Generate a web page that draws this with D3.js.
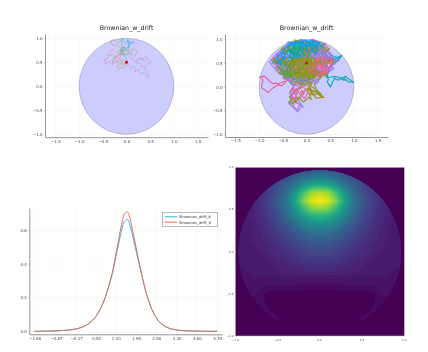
<!DOCTYPE html>
<html>
<head>
<meta charset="utf-8">
<script src="https://cdn.jsdelivr.net/npm/d3@7"></script>
<style>
body { margin: 0; background: #fff; }
svg { display: block; font-family: "DejaVu Sans", sans-serif; filter: blur(0.25px); }
.grid line { stroke: #000; stroke-opacity: 0.06; stroke-width: 0.5; }
.axis text { fill: #444; stroke: none; }
.axis path, .axis line { stroke: #8a8a8a; }
</style>
</head>
<body>
<div id="chart"></div>
<script>
// palette of the walks
var walkColors = ["#009AFA", "#E36F47", "#3EA44E", "#C371D2", "#AC8D18", "#00AAAE", "#ED5E93", "#C68225", "#00A98D", "#8E971D", "#00A8CB", "#9B7FE9"];
var bandColors = ["#00A8CB", "#8E971D", "#9B7FE9", "#AC8D18", "#C371D2", "#8E971D", "#9B7FE9", "#AC8D18"];
var patchColors = ["#9B7FE9", "#009AFA", "#ED5E93", "#3EA44E", "#00AAAE", "#8E971D", "#ED5E93", "#8E971D"];
var startPoint = [0, 0.5];
var discRadius = 1;
var axisTicks = [-1.5, -1, -0.5, 0, 0.5, 1, 1.5];
var yTicks = [-1, -0.5, 0, 0.5, 1];

// few walks, left panel (x, y, x, y ...)
var fewBlue = [.02,.8, .05,.84, .02,.87, .06,.9, .04,.94, .01,.92, .03,.98, .07,.93, .1,.9, .13,.93, .16,.91, .12,.89, .08,.92, .05,.9, .07,.86, .03,.83, .06,.79, .02,.76, .04,.72];
var fewOrange = [0,.5, -.04,.53, -.07,.57, -.11,.52, -.14,.56, -.18,.6, -.16,.65, -.21,.62, -.25,.57, -.24,.63, -.29,.67, -.33,.63, -.36,.67, -.41,.65, -.38,.6, -.43,.57, -.48,.55, -.44,.51, -.46,.48, -.4,.49, -.36,.53, -.33,.48, -.3,.44, -.28,.5, -.24,.54, -.2,.5, -.17,.54, -.13,.6, -.1,.66, -.15,.7, -.18,.74, -.12,.78, -.08,.74, -.04,.7, -.09,.65, -.14,.67, -.2,.7, -.25,.74, -.29,.77, -.35,.73];
var fewGreen = [-.07,.7, -.04,.74, -.09,.76, -.13,.73, -.11,.78, -.07,.82, -.03,.79, -.01,.74, .03,.71, .06,.7, .03,.66, -.02,.68, -.05,.65, -.09,.69, -.11,.74, -.06,.77, -.03,.81];
var fewPurple = [0,.5, .03,.47, .06,.45, .08,.4, .11,.37, .14,.42, .17,.4, .2,.35, .17,.3, .21,.32, .25,.35, .27,.29, .3,.25, .34,.29, .38,.27, .42,.22, .46,.2, .47,.25, .43,.3, .39,.34, .41,.4, .36,.42, .32,.39, .3,.45, .27,.49, .22,.47, .2,.52, .23,.57, .28,.6, .33,.57, .38,.58, .42,.62, .45,.57, .49,.54, .52,.5, .47,.47, .42,.52, .36,.54, .3,.57, .24,.53, .18,.5, .14,.56, .09,.58, .06,.63, .1,.68, .13,.72];
var fewOlive = [0,.5, -.04,.46, -.08,.43, -.12,.47, -.16,.44, -.2,.42, -.17,.36, -.13,.38, -.09,.41, -.05,.37, -.02,.41, .02,.43, -.03,.47, -.09,.5, -.15,.49, -.2,.53, -.25,.47, -.29,.5, -.3,.55, -.25,.6, -.2,.64, -.15,.67, -.09,.68, -.03,.65, .02,.67, .07,.7, .12,.65, .16,.62, .2,.67, .23,.73, .18,.76, .13,.78, .1,.73, .05,.75, .01,.78, -.05,.83, -.1,.79, -.15,.82, -.2,.87, -.26,.85, -.31,.88, -.32,.95, -.27,.98, -.22,.94, -.18,.91, -.13,.95, -.09,.93];
var fewTeal = [0,.5, .01,.55, -.02,.6, -.05,.64, -.09,.68, -.13,.72, -.1,.76, -.07,.8, -.11,.85, -.09,.91, -.12,.94, -.08,1, -.05,.94, -.02,.89, .02,.93, .06,.89, .09,.85, .05,.81, .01,.8, -.04,.76, -.08,.72, -.12,.69];

// many walks, right panel
var manyBlue = [0,.5, -.15,.62, -.05,.7, -.25,.68, -.12,.82, -.3,.78, -.2,.92, -.38,.85, -.28,.72, -.45,.75, -.35,.6, -.52,.65, -.42,.52, -.6,.58, -.5,.45, -.38,.55, -.25,.42, -.32,.6, -.15,.5, -.2,.75, -.05,.9, -.18,.97, .02,.85, -.1,.75, .1,.78, .02,.95, .2,.88, .12,.7, .25,.72, .1,.6, -.05,.55, -.22,.63, -.1,.42, -.28,.55, -.4,.68, -.55,.72, -.48,.58, -.68,.55, -.58,.48, -.44,.6, -.3,.5];
var manyOrange = [0,.5, .12,.42, .05,.35, .2,.38, .15,.5, .3,.45, .22,.6, .38,.55, .3,.4, .45,.42, .36,.62, .5,.55, .42,.7, .28,.68, .35,.82, .2,.75, .12,.9, .05,.72, .18,.62, .02,.6, .1,.48, -.08,.38, -.02,.28, -.15,.32, -.08,.18, .05,.25, .1,.15, .18,.3, .3,.32, .42,.35, .52,.45, .58,.58, .46,.5, .34,.7, .48,.78, .38,.9, .26,.94, .3,.78, .15,.7, .1,.82];
var manyGreen = [0,.5, -.1,.4, -.22,.48, -.12,.28, -.3,.36, -.2,.2, -.38,.3, -.28,.5, -.45,.4, -.35,.22, -.5,.3, -.6,.42, -.45,.52, -.32,.42, -.18,.58, -.05,.45, .08,.55, -.05,.32, .05,.2, -.12,.12, -.25,.25, -.12,.42, .02,.38, .12,.5, -.02,.65, .1,.7, -.08,.8, .05,.88, -.15,.86, -.28,.62, -.42,.62, -.62,.5, -.7,.6, -.55,.35, -.4,.15, -.32,.06, -.25,.18];
var manyPurple = [0,.5, -.2,.35, -.4,.42, -.55,.25, -.62,.32, -.7,.42, -.78,.52, -.7,.62, -.6,.72, -.48,.82, -.38,.95, -.25,.86, -.12,1, 0,.92, .12,1, .24,.95, .1,.8, -.05,.62, .12,.3, .28,.22, .4,.26, .2,.14, .05,.08, -.1,.05, -.2,-.1, -.28,-.4, -.2,-.5, -.14,-.36, -.05,-.44, -.24,-.3, -.34,-.22, -.3,-.05, -.2,.1, -.35,.12, -.5,.18, -.42,.35];
var manyOlive = [0,.5, -.05,.35, -.18,.42, -.08,.22, .08,.3, -.02,.12, .15,.22, .05,.42, .22,.52, .1,.65, -.1,.6, -.22,.72, -.35,.78, -.25,.55, -.12,.68, -.02,.78, .14,.6, .25,.42, .12,.35, -.05,.48, -.2,.28, -.36,.38, -.3,.62, -.1,.52, .02,.7, -.14,.78, -.02,.95, .15,.85, .04,.62, .16,.4, .02,.18, -.08,.3, -.18,.16, -.05,.02, .08,.05, .02,-.12, .14,-.18, .05,-.05, .25,-.12, .36,-.22, .2,-.24, .1,-.08, .02,.1];
var manyTeal = [.42,.3, .44,.24, .46,.16, .44,.1, .47,.05, .5,0, .53,.05, .55,.1, .58,.16, .6,.18, .64,.15, .68,.14, .72,.18, .76,.2, .79,.17, .82,.22, .86,.18, .9,.16, .94,.13, 1,.09, .94,.1, .88,.1, .83,.15, .78,.14, .7,.19, .6,.22, .5,.2, .42,.2, .46,.3, .5,.42, .55,.46, .6,.52, .66,.54, .7,.6, .75,.66, .7,.64, .66,.62, .6,.58, .55,.6, .5,.56, .44,.5];
var manyPink = [-.45,.12, -.5,.1, -.56,.08, -.6,.04, -.65,.01, -.7,-.02, -.74,-.05, -.78,-.1, -.82,-.12, -.86,-.08, -.9,-.05, -.95,-.02, -.94,.06, -.92,.12, -.94,.2, -1,.2, -.94,.22, -.88,.22, -.82,.16, -.76,.1, -.7,.06, -.64,.08, -.58,.04, -.52,.02, -.46,.08, -.4,.15, -.3,.24, -.2,.4];
var manyAmber = [0,.5, .1,.6, -.05,.75, .12,.85, -.08,.94, -.25,.98, -.15,.78, -.32,.88, -.45,.7, -.6,.62, -.42,.45, -.25,.35, -.1,.2, .1,.1, .22,.25, .05,.55, .28,.62, .4,.75, .25,.85, .1,.98, .3,.9, .18,.7, .36,.4, .18,.2, -.02,.42, -.16,.24, -.3,.18];
var manySea = [0,.5, -.08,.62, -.22,.55, -.12,.8, -.22,.7, -.4,.78, -.3,.92, -.14,.92, -.02,.78, .1,.92, .22,.78, .36,.75, .28,.52, .15,.45, .3,.28, .05,.15, -.15,.1, -.05,.28, -.25,.15, -.38,.25, -.28,.42, -.48,.5, -.56,.62, -.46,.76];
var manyLime = [0,.5, .08,.38, -.1,.25, -.22,.12, -.1,.02, -.22,-.08, -.35,-.2, -.3,-.32, -.18,-.28, -.08,-.12, .04,-.02, .16,-.1, .28,-.18, .16,.06, .3,.18, .12,.45, -.08,.72, -.24,.45, -.4,.5, -.34,.32, -.5,.38, -.62,.36, -.56,.55];
var manyCyan = [0,.5, -.12,.6, -.3,.72, -.22,.85, -.05,.88, .08,.72, .24,.66, .14,.82, .3,.86, .44,.62, .6,.5, .7,.6, .52,.66, .36,.52, .46,.4, .2,.55, .06,.66, -.14,.66, -.4,.58, -.62,.65, -.72,.5, -.52,.52, -.66,.4];
var manyViolet = [0,.5, -.2,.5, -.38,.4, -.52,.48, -.66,.46, -.74,.56, -.58,.66, -.44,.8, -.3,.94, -.16,.72, 0,.96, .16,.72, .3,.92, .44,.78, .54,.66, .4,.46, .24,.36, .06,.3, -.1,.14, -.26,.02, -.36,-.12, -.26,-.24, -.38,-.34, -.28,-.43, -.18,-.52, -.1,-.4, -.22,-.2, -.32,.12, -.5,.24];

// stretches that run back and forth across the dense cloud
var bandA = [-.4,.88, -.34,.94, -.28,.86, -.22,.96, -.16,.88, -.1,.98, -.04,.87, .02,.97, .08,.88, .14,.96, .2,.87, .26,.94, .32,.86, .38,.9, .34,.82, .28,.92, .22,.83, .16,.93, .1,.82, .04,.92, -.02,.83, -.08,.94, -.14,.84, -.2,.92, -.26,.82, -.32,.9, -.38,.82, -.44,.86];
var bandB = [-.55,.76, -.49,.83, -.43,.75, -.37,.84, -.31,.75, -.25,.84, -.19,.76, -.13,.85, -.07,.75, -.01,.84, .05,.76, .11,.85, .17,.75, .23,.84, .29,.76, .35,.84, .41,.76, .47,.8, .43,.72, .37,.8, .31,.71, .25,.8, .19,.72, .13,.8, .07,.71, .01,.8, -.05,.71, -.11,.8, -.17,.7, -.23,.8, -.29,.71, -.35,.8, -.41,.71, -.47,.79, -.53,.71];
var bandC = [-.66,.62, -.6,.7, -.54,.62, -.48,.72, -.42,.61, -.36,.71, -.3,.62, -.24,.72, -.18,.61, -.12,.71, -.06,.62, 0,.72, .06,.61, .12,.71, .18,.62, .24,.72, .3,.61, .36,.7, .42,.62, .48,.7, .54,.6, .5,.66, .44,.57, .38,.67, .32,.57, .26,.66, .2,.56, .14,.66, .08,.56, .02,.66, -.04,.57, -.1,.67, -.16,.56, -.22,.67, -.28,.57, -.34,.67, -.4,.56, -.46,.67, -.52,.57, -.58,.66, -.64,.56];
var bandD = [-.72,.52, -.66,.6, -.6,.5, -.54,.6, -.48,.51, -.42,.6, -.36,.5, -.3,.6, -.24,.5, -.18,.6, -.12,.5, -.06,.6, 0,.51, .06,.6, .12,.5, .18,.6, .24,.5, .3,.6, .36,.5, .42,.58, .48,.5, .54,.58, .58,.52, .52,.46, .46,.55, .4,.45, .34,.55, .28,.45, .22,.56, .16,.45, .1,.55, .04,.45, -.02,.56, -.08,.45, -.14,.55, -.2,.44, -.26,.55, -.32,.45, -.38,.55, -.44,.45, -.5,.55, -.56,.45, -.62,.54, -.68,.46];
var bandE = [-.64,.38, -.58,.47, -.52,.36, -.46,.46, -.4,.36, -.34,.46, -.28,.36, -.22,.46, -.16,.36, -.1,.46, -.04,.36, .02,.46, .08,.36, .14,.46, .2,.36, .26,.46, .32,.36, .38,.45, .44,.36, .5,.44, .54,.38, .48,.32, .42,.41, .36,.31, .3,.41, .24,.31, .18,.41, .12,.3, .06,.41, 0,.3, -.06,.41, -.12,.3, -.18,.41, -.24,.31, -.3,.41, -.36,.3, -.42,.41, -.48,.31, -.54,.4, -.6,.32];
var bandF = [-.56,.26, -.5,.34, -.44,.24, -.38,.34, -.32,.23, -.26,.34, -.2,.24, -.14,.34, -.08,.23, -.02,.33, .04,.22, .1,.33, .16,.22, .22,.33, .28,.24, .34,.32, .4,.26, .46,.32, .4,.22, .34,.28, .28,.19, .22,.27, .16,.17, .1,.26, .04,.16, -.02,.26, -.08,.16, -.14,.27, -.2,.17, -.26,.27, -.32,.17, -.38,.27, -.44,.17, -.5,.25];
var bandG = [-.44,.16, -.38,.22, -.32,.12, -.26,.22, -.2,.1, -.14,.2, -.08,.09, -.02,.19, .04,.08, .1,.18, .16,.1, .22,.18, .26,.12, .2,.06, .14,.14, .08,.04, .02,.14, -.04,.03, -.1,.13, -.16,.04, -.22,.13, -.28,.05, -.34,.14];
var bandH = [-.02,.32, .04,.4, .1,.3, .16,.4, .1,.46, .02,.38, -.06,.46, -.12,.36, -.18,.46, -.24,.36, -.3,.46, -.22,.54, -.14,.44, -.06,.54, .02,.44, .1,.54, .04,.6, -.04,.52, -.12,.6, -.2,.52, -.28,.6, -.34,.52, -.38,.42, -.3,.32, -.22,.4, -.14,.3, -.06,.38, .02,.28, .08,.36];

// short wiggly stretches, right panel
var patchPurple = [.3,.9, .36,.86, .42,.8, .38,.74, .46,.72, .52,.66, .48,.6, .56,.62, .6,.55, .66,.58, .6,.48, .53,.46, .57,.38, .5,.34, .44,.42, .38,.66, .32,.72, .27,.82, .33,.78, .4,.7, .34,.64, .28,.72, .22,.66, .16,.64, .22,.6];
var patchBlue = [-.1,.72, -.05,.78, -.1,.85, -.04,.9, .02,.84, -.01,.76, .05,.72, .1,.78, .06,.86, .12,.9, .17,.84, .13,.76, .19,.72, .24,.78, .2,.86, .25,.92, .18,.95, .1,.97, .03,.94, -.04,.98, -.1,.93, -.16,.96, -.22,.9, -.28,.95, -.33,.9, -.4,.86, -.46,.8, -.52,.74, -.58,.68, -.62,.6, -.57,.55, -.62,.5, -.55,.52, -.5,.6, -.44,.66, -.5,.7, -.42,.74];
var patchPink = [.12,.28, .18,.34, .14,.4, .2,.44, .26,.38, .22,.3, .28,.26, .33,.32, .3,.4, .36,.46, .32,.52, .38,.56, .44,.5, .4,.42, .36,.34, .42,.32, .47,.38, .51,.44, .48,.52, .54,.56, .47,.6, .4,.62, .34,.58, .28,.62, .24,.54, .3,.46, .24,.48, .18,.52, .14,.46, .08,.4, .13,.33, .19,.26, .25,.22, .32,.28, .38,.3, .45,.28, .4,.36, .34,.42, .27,.5, .21,.58, .15,.52, .1,.36];
var patchGreen = [-.58,.42, -.53,.36, -.57,.3, -.5,.26, -.46,.33, -.5,.4, -.45,.46, -.4,.4, -.42,.32, -.36,.27, -.32,.34, -.37,.42, -.33,.48, -.28,.42, -.24,.5, -.3,.56, -.38,.54, -.44,.52, -.5,.5, -.55,.46, -.48,.36, -.41,.28, -.46,.22, -.38,.2, -.32,.24, -.27,.32, -.2,.3, -.16,.38, -.1,.36, -.05,.43, -.1,.5, -.02,.46, .04,.5, 0,.6, .06,.66, 0,.7, -.07,.64];
var patchTeal = [-.38,.62, -.33,.68, -.36,.74, -.3,.7, -.27,.78, -.32,.82, -.26,.86, -.22,.8, -.25,.72, -.2,.66, -.24,.62, -.18,.6, -.14,.66, -.19,.72, -.15,.78, -.2,.84, -.14,.88, -.1,.82, -.12,.74, -.07,.7, -.12,.64, -.16,.7, -.22,.76, -.28,.66, -.34,.62, -.3,.58, -.25,.66, -.31,.76, -.37,.8, -.33,.74, -.28,.72, -.22,.7, -.17,.76, -.12,.8, -.17,.83, -.24,.78];
var patchOlive = [-.28,.3, -.24,.36, -.28,.42, -.22,.46, -.25,.52, -.19,.5, -.16,.42, -.2,.34, -.15,.28, -.1,.33, -.13,.4, -.08,.46, -.13,.54, -.07,.57, -.03,.5, -.06,.42, -.01,.36, -.06,.3, -.02,.24, .03,.3, .01,.38, .06,.44, .02,.52, .08,.56, .12,.48, .09,.4, .14,.34, .09,.28, .05,.22, .12,.2, .17,.27, .2,.36, .16,.43, .2,.5, .15,.56, .1,.6, .03,.62, -.04,.58, -.1,.6, -.17,.58, -.23,.6, -.28,.54, -.33,.47, -.3,.38, -.33,.3, -.26,.24, -.2,.28, -.14,.22, -.08,.17, -.02,.2];
var patchRose = [-.34,-.1, -.3,-.04, -.26,-.1, -.22,-.04, -.17,-.09, -.21,-.16, -.27,-.14, -.32,-.19, -.28,-.25, -.22,-.22, -.17,-.27, -.12,-.21, -.15,-.14, -.1,-.08, -.05,-.13, -.09,-.2, -.04,-.25, 0,-.18, .03,-.1, -.02,-.05, -.08,0, -.14,-.04, -.2,.02, -.26,.06];
var patchMoss = [-.36,-.2, -.32,-.26, -.37,-.32, -.31,-.36, -.26,-.31, -.21,-.35, -.24,-.28, -.18,-.22, -.12,-.26, -.07,-.32, -.01,-.28, .04,-.22, .1,-.26, .06,-.16, .12,-.12, .18,-.17, .24,-.14, .3,-.2, .35,-.22, .28,-.12, .2,-.08, .15,-.02, .08,.02, .12,.08, .05,.12, -.02,.06, -.08,.1, -.14,.06, -.2,.12, -.26,.1, -.3,.16];

var walksFew = [fewBlue, fewOrange, fewGreen, fewPurple, fewOlive, fewTeal];
var walksMany = [manyBlue, manyOrange, manyGreen, manyPurple, manyOlive, manyTeal, manyPink, manyAmber, manySea, manyLime, manyCyan, manyViolet];
var bandsMany = [bandA, bandB, bandC, bandD, bandE, bandF, bandG, bandH];
var patchesMany = [patchPurple, patchBlue, patchPink, patchGreen, patchTeal, patchOlive, patchRose, patchMoss];

// density curves
var densityX = [-1.6,-1.5,-1.4,-1.3,-1.2,-1.1,-1,-.9,-.8,-.7,-.6,-.5,-.4,-.3,-.2,-.1,0,.1,.2,.3,.4,.5,.6,.7,.8,.9,1,1.1,1.2,1.3,1.4,1.5,1.6,1.7,1.8,1.9,2,2.1,2.2,2.3,2.4,2.5,2.6,2.7,2.8,2.9,3,3.1,3.2,3.3,3.4,3.5,3.6,3.7,3.8,3.9,4,4.1,4.2,4.3,4.4,4.5,4.6,4.7];
var drift6 = [0,0,0,.001,.001,.001,.002,.002,.003,.004,.005,.006,.008,.01,.013,.017,.022,.029,.038,.05,.066,.085,.112,.145,.185,.235,.292,.355,.44,.52,.6,.655,.665,.625,.555,.48,.405,.33,.26,.2,.15,.11,.08,.057,.041,.029,.021,.015,.011,.008,.006,.004,.003,.002,.002,.001,.001,.001,0,0,0,0,0,0];
var drift8 = [0,0,0,.001,.001,.001,.002,.002,.003,.004,.005,.006,.008,.01,.013,.017,.022,.029,.038,.05,.066,.085,.112,.145,.185,.235,.295,.365,.455,.545,.635,.7,.71,.665,.585,.5,.415,.335,.262,.2,.15,.11,.08,.057,.041,.029,.021,.015,.011,.008,.006,.004,.003,.002,.002,.001,.001,.001,0,0,0,0,0,0];
var densityTicks = [-1.6,-.87,-.17,.52,1.2,1.9,2.6,3.3,4,4.7];
var densityYTicks = [0,.2,.4,.6];
var densityNames = ["Brownian_drift_6", "Brownian_drift_8"];

// heatmap grid, rows from y=1 down to y=-1, columns x=-1 to x=1, step 0.1
var heatRows = [
 [4,5,6,8,10,13,16,19,22,24,25,24,22,19,16,13,10,8,6,5,4],
 [5,6,8,10,13,17,22,27,33,37,38,37,33,27,22,17,13,10,8,6,5],
 [6,8,10,13,17,23,30,39,50,58,60,58,50,39,30,23,17,13,10,8,6],
 [7,8,10,14,19,26,36,52,70,86,90,86,70,52,36,26,19,14,10,8,7],
 [7,8,11,15,21,29,40,58,80,96,100,96,80,58,40,29,21,15,11,8,7],
 [7,8,10,14,20,27,37,52,67,79,82,79,67,52,37,27,20,14,10,8,7],
 [7,8,10,13,18,24,32,43,53,60,62,60,53,43,32,24,18,13,10,8,7],
 [7,8,9,12,16,21,27,34,42,47,48,47,42,34,27,21,16,12,9,8,7],
 [7,8,9,11,14,18,22,27,32,35,36,35,32,27,22,18,14,11,9,8,7],
 [7,8,9,10,12,15,18,22,25,28,29,28,25,22,18,15,12,10,9,8,7],
 [7,8,8,9,11,13,15,18,20,22,23,22,20,18,15,13,11,9,8,8,7],
 [7,7,8,8,9,11,12,14,16,17,18,17,16,14,12,11,9,8,8,7,7],
 [7,7,7,8,8,9,10,11,12,13,13,13,12,11,10,9,8,8,7,7,7],
 [6,6,7,7,7,7,8,8,8,8,8,8,8,8,8,7,7,7,7,6,6],
 [6,6,6,6,5,5,5,5,4,4,4,4,4,5,5,5,5,6,6,6,6],
 [6,6,6,4,2,2,2,2,2,2,2,2,2,2,2,2,2,4,6,6,6],
 [5,5,5,4,2,1,1,1,1,1,1,1,1,1,1,1,2,4,5,5,5],
 [5,5,5,5,3,1,1,1,1,1,1,1,1,1,1,1,3,5,5,5,5],
 [4,4,4,4,4,4,2,1,1,1,1,1,1,1,2,4,4,4,4,4,4],
 [1,1,1,1,1,2,2,1,1,1,1,1,1,1,2,2,1,1,1,1,1],
 [1,1,1,1,1,1,1,1,1,1,1,1,1,1,1,1,1,1,1,1,1]
];
var heatTicks = [-1, -0.5, 0, 0.5, 1];

var svg = d3.select("#chart").append("svg").attr("width", 428).attr("height", 352);
var fmt1 = d3.format(".1f");

function toPoints(flat) {
	var pts = [];
	for (var i = 0; i < flat.length; i += 2) pts.push([flat[i], flat[i + 1]]);
	return pts;
}

// draws the left and bottom axes plus the faint grid
function drawFrame(x, y, xTickValues, yTickValues, xFormat, yFormat) {
	var g = svg.append("g");
	var xr = x.range(), yr = y.range();
	g.append("g").attr("class", "grid").selectAll("line").data(xTickValues).enter().append("line")
		.attr("x1", d => x(d)).attr("x2", d => x(d)).attr("y1", yr[0]).attr("y2", yr[1]);
	g.append("g").attr("class", "grid").selectAll("line").data(yTickValues).enter().append("line")
		.attr("x1", xr[0]).attr("x2", xr[1]).attr("y1", d => y(d)).attr("y2", d => y(d));
	var bottom = g.append("g").attr("class", "axis").attr("transform", "translate(0," + yr[0] + ")")
		.call(d3.axisBottom(x).tickValues(xTickValues).tickFormat(xFormat).tickSize(1).tickSizeOuter(0).tickPadding(1.5));
	var left = g.append("g").attr("class", "axis").attr("transform", "translate(" + xr[0] + ",0)")
		.call(d3.axisLeft(y).tickValues(yTickValues).tickFormat(yFormat).tickSize(1).tickSizeOuter(0).tickPadding(1.5));
	[bottom, left].forEach(a => {
		a.attr("font-size", 4).attr("font-family", null);
		a.selectAll("text").attr("fill", null);
		a.selectAll("line").attr("stroke", null).attr("stroke-width", 0.4);
		a.select(".domain").attr("stroke", null).attr("stroke-width", 0.9);
	});
}

function drawWalkPanel(walks, bands, patches, xRange, yRange, xLim, yLim, strokeW, lineOpacity) {
	var x = d3.scaleLinear().domain(xLim).range(xRange);
	var y = d3.scaleLinear().domain(yLim).range(yRange);
	drawFrame(x, y, axisTicks, yTicks, fmt1, fmt1);

	svg.append("ellipse")
		.attr("cx", x(0)).attr("cy", y(0))
		.attr("rx", x(discRadius) - x(0)).attr("ry", y(0) - y(discRadius))
		.attr("fill", "#ccccff").attr("stroke", "#8f8fa8").attr("stroke-width", 0.5);

	var line = d3.line().x(d => x(d[0])).y(d => y(d[1]));
	var layer = svg.append("g").attr("fill", "none").attr("stroke-width", strokeW).attr("stroke-opacity", lineOpacity);
	layer.selectAll(".walk").data(walks).enter().append("path").attr("class", "walk")
		.attr("d", d => line(toPoints(d)))
		.attr("stroke", (d, i) => walkColors[i % walkColors.length]);
	layer.selectAll(".band").data(bands).enter().append("path").attr("class", "band")
		.attr("d", d => line(toPoints(d)))
		.attr("stroke", (d, i) => bandColors[i % bandColors.length]);
	layer.selectAll(".patch").data(patches).enter().append("path").attr("class", "patch")
		.attr("d", d => line(toPoints(d)))
		.attr("stroke", (d, i) => patchColors[i % patchColors.length]);

	svg.append("circle").attr("cx", x(startPoint[0])).attr("cy", y(startPoint[1])).attr("r", 1.5).attr("fill", "#e0001a");

	svg.append("text").attr("x", x(0)).attr("y", yRange[1] - 4)
		.attr("text-anchor", "middle").attr("font-size", 6.3).attr("fill", "#222")
		.text("Brownian_w_drift");
}

drawWalkPanel(walksFew, [], [], [45, 208], [137.2, 34], [-1.72, 1.72], [-1.06, 1.09], 0.5, 0.75);
drawWalkPanel(walksMany, bandsMany, patchesMany, [225, 388], [137, 34], [-1.72, 1.72], [-1.057, 1.11], 1.2, 0.95);

// density panel
var dx = d3.scaleLinear().domain([-1.787, 4.89]).range([29.3, 222.6]);
var dy = d3.scaleLinear().domain([-.018, .733]).range([334.3, 208]);
drawFrame(dx, dy, densityTicks, densityYTicks, d3.format(".2f"), fmt1);

var densityLine = d3.line().x((d, i) => dx(densityX[i])).y(d => dy(d)).curve(d3.curveMonotoneX);
var densityColors = ["#35B1FB", "#E36F47"];
svg.append("path").datum(drift6).attr("d", densityLine).attr("fill", "none").attr("stroke", densityColors[0]).attr("stroke-width", 1);
svg.append("path").datum(drift8).attr("d", densityLine).attr("fill", "none").attr("stroke", densityColors[1]).attr("stroke-width", 1);

var legend = svg.append("g").attr("transform", "translate(162.3,212.3)");
legend.append("rect").attr("width", 55).attr("height", 14.4).attr("fill", "#fff").attr("stroke", "#777").attr("stroke-width", 0.5);
densityNames.forEach((name, i) => {
	var ly = 4.5 + i * 5.4;
	legend.append("line").attr("x1", 2.5).attr("x2", 15).attr("y1", ly).attr("y2", ly)
		.attr("stroke", densityColors[i]).attr("stroke-width", 1);
	legend.append("text").attr("x", 17).attr("y", ly + 1.4).attr("font-size", 3.8).attr("fill", "#333").text(name);
});

// heatmap panel
var hx = d3.scaleLinear().domain([-1, 1]).range([235.3, 404.3]);
var hy = d3.scaleLinear().domain([-1, 1]).range([336, 167.3]);
var heatColor = d3.scaleSequential(d3.interpolateViridis).domain([0, 100]);
var heatValues = heatRows.flat();
var heatSize = heatRows.length;
var thresholds = d3.range(3, 101, 2);
var contours = d3.contours().size([heatSize, heatSize]).smooth(true).thresholds(thresholds)(heatValues);
var gridStep = 2 / (heatSize - 1);
var heatProjection = d3.geoTransform({
	point: function (cx, cy) {
		this.stream.point(hx(-1 + (cx - 0.5) * gridStep), hy(1 - (cy - 0.5) * gridStep));
	}
});
var heatPath = d3.geoPath(heatProjection);

svg.append("rect").attr("x", hx(-1)).attr("y", hy(1)).attr("width", hx(1) - hx(-1)).attr("height", hy(-1) - hy(1))
	.attr("fill", heatColor(0)).attr("stroke", "#bbb").attr("stroke-width", 0.6);
svg.append("clipPath").attr("id", "heat-disc").append("ellipse")
	.attr("cx", hx(0)).attr("cy", hy(0)).attr("rx", (hx(1) - hx(0)) * 0.965).attr("ry", (hy(0) - hy(1)) * 0.965);
svg.append("g").attr("clip-path", "url(#heat-disc)").selectAll("path").data(contours).enter().append("path")
	.attr("d", heatPath)
	.attr("fill", d => heatColor(d.value));

var heatLabels = svg.append("g").attr("font-size", 2.8).attr("fill", "#444");
heatLabels.selectAll(".hxl").data(heatTicks).enter().append("text").attr("class", "hxl")
	.attr("x", d => hx(d)).attr("y", 340.5).attr("text-anchor", "middle").text(fmt1);
heatLabels.selectAll(".hyl").data(heatTicks).enter().append("text").attr("class", "hyl")
	.attr("x", 233.5).attr("y", d => hy(d) + 1).attr("text-anchor", "end").text(fmt1);
</script>
</body>
</html>
